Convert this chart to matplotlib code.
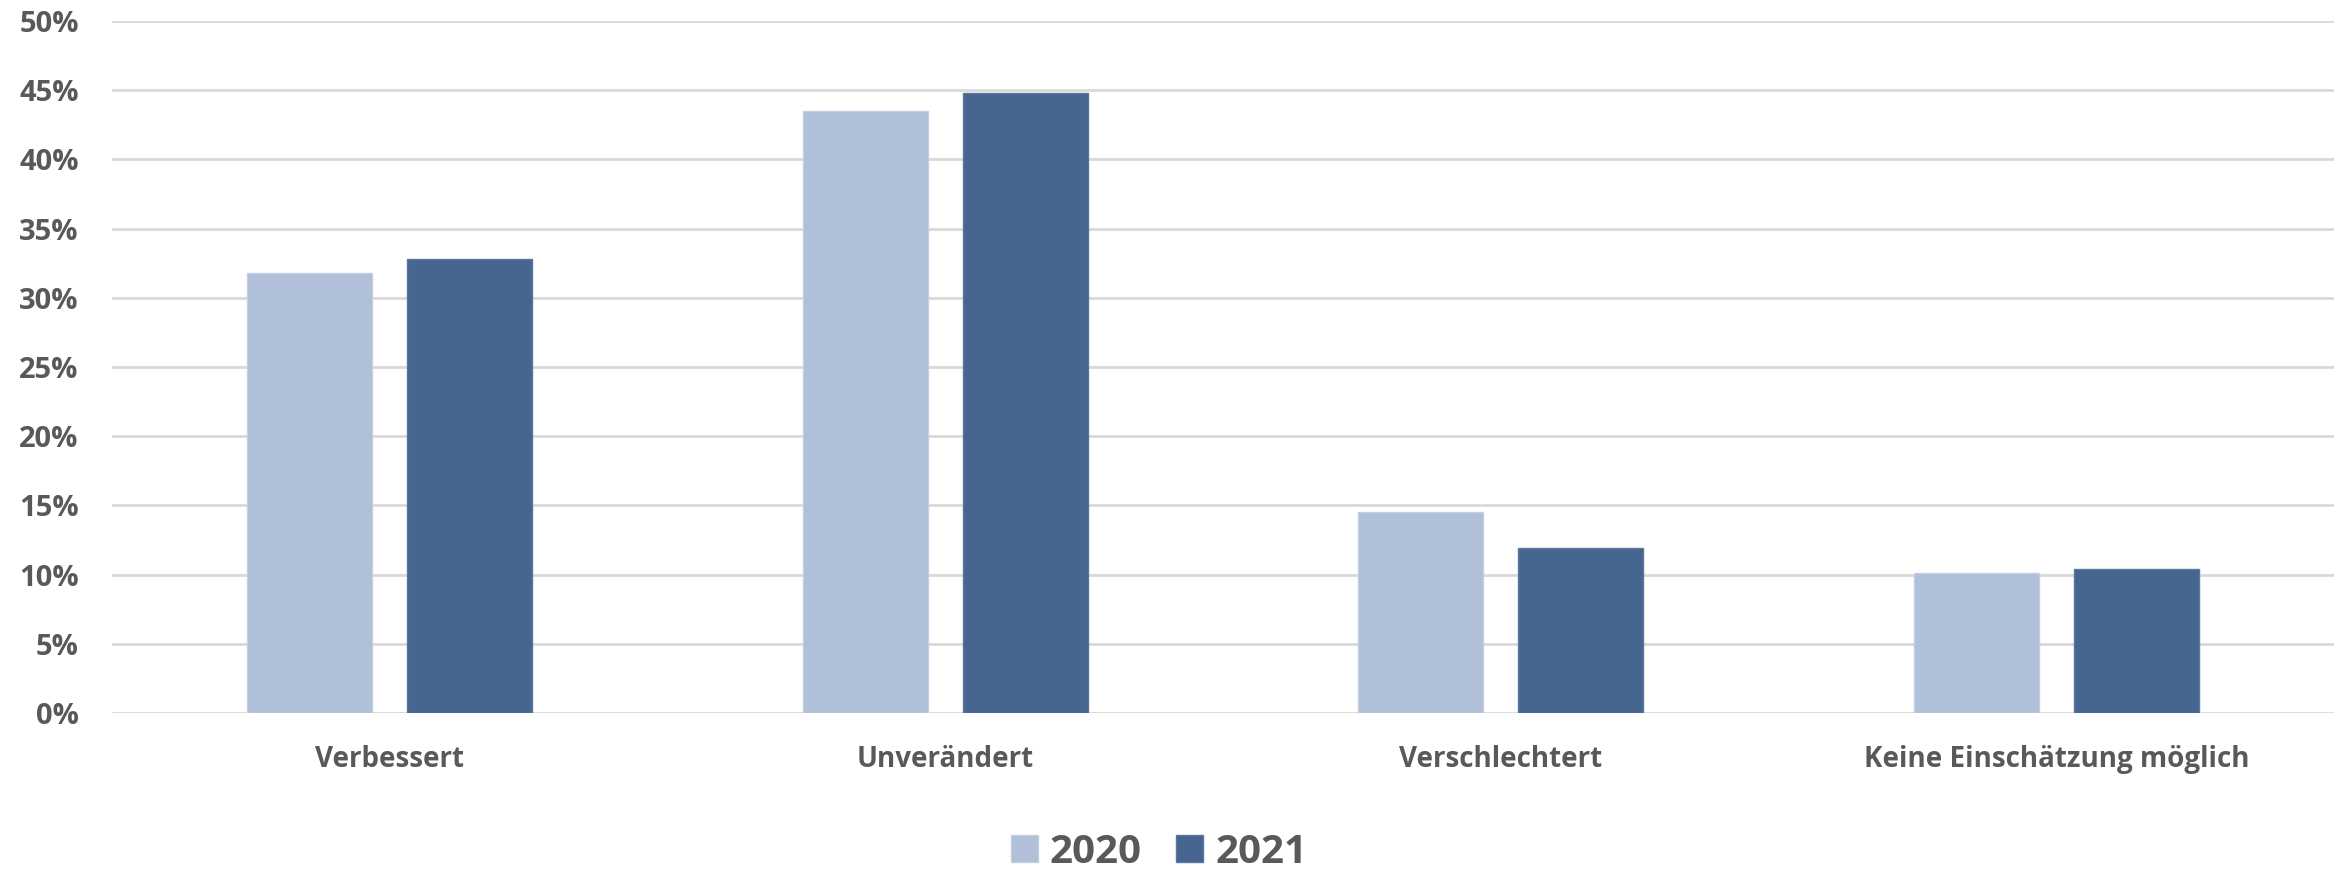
import matplotlib
matplotlib.use('Agg')
import matplotlib.pyplot as plt
import numpy as np
from matplotlib.ticker import PercentFormatter

# Data
categories = ['Verbessert', 'Unverändert', 'Verschlechtert', 'Keine Einschätzung möglich']
years = ['2020', '2021']
values_2020 = [31.8, 43.5, 14.5, 10.1]
values_2021 = [32.8, 44.8, 11.9, 10.4]

light = '#B0C0D9'
dark = '#46668F'
text_col = '#595959'

plt.rcParams['font.family'] = ['Open Sans', 'DejaVu Sans']
plt.rcParams['font.weight'] = 'bold'

fig = plt.figure(figsize=(23.39, 8.73), dpi=100)
ax = fig.add_axes([0.0479, 0.1833, 0.9501, 0.7927])

x = np.arange(len(categories))
w = 0.225
off = 0.144
ax.bar(x - off, values_2020, w, color=light, edgecolor='#C3CFE2', linewidth=1, label=years[0], zorder=3)
ax.bar(x + off, values_2021, w, color=dark, edgecolor='#5A77A0', linewidth=1, label=years[1], zorder=3)

ax.set_xlim(-0.5, len(categories) - 0.5)
ax.set_ylim(0, 50)
ax.set_yticks(np.arange(0, 51, 5))
ax.yaxis.set_major_formatter(PercentFormatter(decimals=0))
ax.grid(axis='y', color='#D9D9D9', linewidth=2, zorder=0)
ax.set_axisbelow(True)

for s in ax.spines.values():
    s.set_visible(False)

ax.tick_params(axis='both', length=0)
ax.tick_params(axis='y', pad=24, labelsize=21, labelcolor=text_col)
ax.tick_params(axis='x', pad=23, labelsize=20, labelcolor=text_col)
ax.set_xticks(x)
ax.set_xticklabels(categories, fontweight='bold')
for lbl in ax.get_yticklabels():
    lbl.set_fontweight('bold')

fig.legend(loc='center', bbox_to_anchor=(0.4955, 0.024), ncol=2, frameon=False,
           prop={'size': 29, 'weight': 'bold'}, labelcolor=text_col,
           handlelength=0.67, handleheight=0.67, handletextpad=0.3, columnspacing=0.85)

plt.savefig('out.png', dpi=100)
